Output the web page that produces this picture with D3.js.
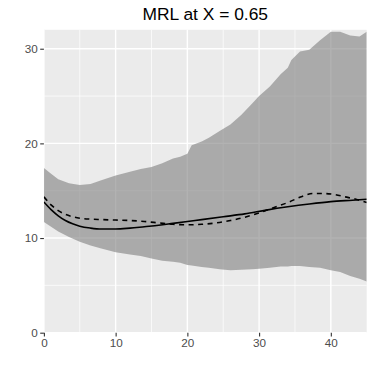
<!DOCTYPE html>
<html>
<meta charset="utf-8">
<script src="https://d3js.org/d3.v7.min.js"></script>
<style>
  body { margin: 0; background: #fff; }
  text { font-family: "Liberation Sans", Arial, sans-serif; }
</style>
<body>
<div id="my_dataviz"></div>
<script>
// ribbon (band)
const bandX     = [0, 1, 2, 3.5, 5, 6.5, 8, 10, 12, 13.5, 15, 16.5, 18, 19, 20, 20.6, 22, 23, 24.5, 26, 27.5, 29, 30, 31.5, 33, 34, 34.5, 35.7, 37, 38.5, 40, 41.3, 42.7, 44, 45];
const bandUpper = [17.4, 16.8, 16.2, 15.8, 15.6, 15.7, 16.1, 16.6, 17.0, 17.3, 17.5, 17.9, 18.4, 18.6, 18.9, 19.8, 20.2, 20.6, 21.3, 22.0, 23.0, 24.2, 25.0, 26.0, 27.3, 28.0, 28.8, 29.7, 29.9, 30.9, 31.8, 31.8, 31.4, 31.3, 31.8];
const bandLower = [11.7, 11.2, 10.7, 10.1, 9.6, 9.2, 8.9, 8.5, 8.25, 8.1, 7.85, 7.6, 7.5, 7.4, 7.15, 7.1, 6.95, 6.85, 6.7, 6.6, 6.65, 6.7, 6.75, 6.85, 7.0, 7.0, 7.05, 7.05, 6.95, 6.85, 6.6, 6.4, 6.0, 5.7, 5.4];

// solid line
const solidX = [0, 1, 2, 3, 4, 5, 6.5, 8, 10, 12, 14, 16, 18, 20, 22, 25, 28, 31, 34, 37, 40, 43, 45];
const solidY = [13.8, 13.0, 12.35, 11.85, 11.5, 11.25, 11.05, 10.95, 10.95, 11.05, 11.2, 11.35, 11.55, 11.75, 11.95, 12.25, 12.55, 12.95, 13.3, 13.6, 13.85, 14.0, 14.1];

// dashed line
const dashX = [0, 1, 2, 3, 4, 5, 6.5, 8, 10, 12, 14, 16, 18, 20, 22, 24, 26, 28, 30, 32, 34, 36, 37.5, 39, 40.5, 42, 43.5, 45];
const dashY = [14.35, 13.5, 12.9, 12.5, 12.25, 12.1, 12.0, 11.95, 11.9, 11.85, 11.75, 11.6, 11.45, 11.4, 11.45, 11.6, 11.85, 12.2, 12.65, 13.2, 13.75, 14.4, 14.7, 14.7, 14.6, 14.35, 14.1, 13.75];

const xTicks = [0, 10, 20, 30, 40];
const yTicks = [0, 10, 20, 30];
const xMinor = [5, 15, 25, 35];
const yMinor = [5, 15, 25];
const title = "MRL at X = 0.65";

const margin = {top: 29.8, right: 7.3, bottom: 41.3, left: 43.9},
    width = 374 - margin.left - margin.right,
    height = 374 - margin.top - margin.bottom;

const svg = d3.select("#my_dataviz")
  .append("svg")
    .attr("width", 374)
    .attr("height", 374)
  .append("g")
    .attr("transform", "translate(" + margin.left + "," + margin.top + ")");

const x = d3.scaleLinear().domain([0, 45]).range([0, width]);
const y = d3.scaleLinear().domain([0, 32]).range([height, 0]);

// panel
svg.append("rect")
  .attr("width", width)
  .attr("height", height)
  .attr("fill", "#EBEBEB");

svg.append("clipPath").attr("id", "clip")
  .append("rect").attr("width", width).attr("height", height);

// grid lines
svg.selectAll(".minorX").data(xMinor).enter().append("line")
  .attr("x1", d => x(d)).attr("x2", d => x(d))
  .attr("y1", 0).attr("y2", height)
  .attr("stroke", "#fff").attr("stroke-width", 0.7);
svg.selectAll(".minorY").data(yMinor).enter().append("line")
  .attr("y1", d => y(d)).attr("y2", d => y(d))
  .attr("x1", 0).attr("x2", width)
  .attr("stroke", "#fff").attr("stroke-width", 0.7);
svg.selectAll(".majorX").data(xTicks).enter().append("line")
  .attr("x1", d => x(d)).attr("x2", d => x(d))
  .attr("y1", 0).attr("y2", height)
  .attr("stroke", "#fff").attr("stroke-width", 1.4);
svg.selectAll(".majorY").data(yTicks).enter().append("line")
  .attr("y1", d => y(d)).attr("y2", d => y(d))
  .attr("x1", 0).attr("x2", width)
  .attr("stroke", "#fff").attr("stroke-width", 1.4);

// ribbon
const band = bandX.map((d, i) => ({x: d, lo: bandLower[i], hi: bandUpper[i]}));
svg.append("path")
  .datum(band)
  .attr("clip-path", "url(#clip)")
  .attr("fill", "#7F7F7F")
  .attr("fill-opacity", 0.6)
  .attr("d", d3.area()
    .x(d => x(d.x))
    .y0(d => y(d.lo))
    .y1(d => y(d.hi)));

// lines
const line = d3.line()
  .x(d => x(d[0]))
  .y(d => y(d[1]))
  .curve(d3.curveMonotoneX);

svg.append("path")
  .datum(solidX.map((d, i) => [d, solidY[i]]))
  .attr("clip-path", "url(#clip)")
  .attr("fill", "none")
  .attr("stroke", "#000")
  .attr("stroke-width", 1.6)
  .attr("d", line);

svg.append("path")
  .datum(dashX.map((d, i) => [d, dashY[i]]))
  .attr("clip-path", "url(#clip)")
  .attr("fill", "none")
  .attr("stroke", "#000")
  .attr("stroke-width", 1.6)
  .attr("stroke-dasharray", "5,4.5")
  .attr("d", line);

// axes
const xAxis = svg.append("g")
  .attr("transform", "translate(0," + height + ")")
  .call(d3.axisBottom(x).tickValues(xTicks).tickSize(3.7).tickPadding(2.5));
const yAxis = svg.append("g")
  .call(d3.axisLeft(y).tickValues(yTicks).tickSize(3.7).tickPadding(2.5));

[xAxis, yAxis].forEach(a => {
  a.select(".domain").remove();
  a.selectAll(".tick line").attr("stroke", "#333333").attr("stroke-width", 1.1);
  a.selectAll(".tick text")
    .attr("fill", "#4D4D4D")
    .style("font-size", "11.7px")
    .style("font-family", "'Liberation Sans', Arial, sans-serif");
});

// title
svg.append("text")
  .attr("x", width / 2)
  .attr("y", 20.3 - margin.top)
  .attr("text-anchor", "middle")
  .attr("fill", "#000")
  .style("font-size", "17.4px")
  .text(title);
</script>
</body>
</html>
